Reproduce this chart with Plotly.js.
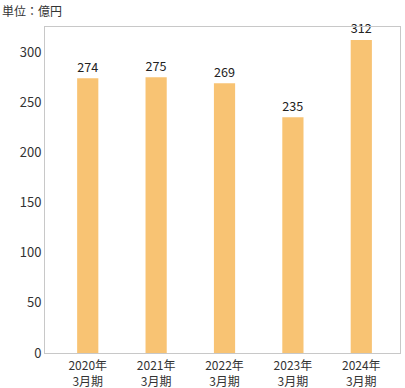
<!DOCTYPE html>
<html>
<head>
<meta charset="utf-8">
<script src="https://cdn.plot.ly/plotly-3.0.1.min.js"></script>
<style>html,body{margin:0;padding:0;background:#fff;}#chart{width:405px;height:388px;}</style>
</head>
<body>
<div id="chart"></div>
<script>
var categories = ["2020年<br>3月期", "2021年<br>3月期", "2022年<br>3月期", "2023年<br>3月期", "2024年<br>3月期"];
var values = [274, 275, 269, 235, 312];
var valueLabels = ["274", "275", "269", "235", "312"];
var yTicks = [0, 50, 100, 150, 200, 250, 300];
var unitLabel = "単位：億円";

var font = "'Noto Sans CJK JP', 'Noto Sans', sans-serif";

Plotly.newPlot("chart", [{
  type: "bar",
  x: categories,
  y: values,
  text: valueLabels,
  textposition: "outside",
  cliponaxis: false,
  textfont: {family: font, size: 14, color: "#222"},
  marker: {color: "#f8c373"},
  width: 0.31,
  hoverinfo: "skip"
}], {
  width: 405, height: 388,
  margin: {l: 45, r: 5, t: 27, b: 35},
  paper_bgcolor: "#fff", plot_bgcolor: "#fff",
  showlegend: false,
  font: {family: font, size: 13, color: "#333"},
  xaxis: {
    type: "category",
    range: [-0.625, 4.566],
    showline: true, mirror: true, linecolor: "#c8c8c8", linewidth: 1,
    showgrid: false, zeroline: false, ticks: "",
    ticklabelstandoff: 2,
    tickfont: {family: font, size: 12, color: "#333"}
  },
  yaxis: {
    range: [0, 325],
    tickvals: yTicks,
    ticktext: yTicks.map(String),
    showline: true, mirror: true, linecolor: "#c8c8c8", linewidth: 1,
    showgrid: false, zeroline: false, ticks: "",
    tickfont: {family: font, size: 13, color: "#333"}
  },
  annotations: [{
    text: unitLabel, xref: "paper", yref: "paper",
    x: 0, y: 1, xanchor: "left", yanchor: "bottom",
    xshift: -45, yshift: 6, showarrow: false,
    font: {family: font, size: 12, color: "#333"}
  }]
}, {staticPlot: true, displayModeBar: false});
</script>
</body>
</html>
